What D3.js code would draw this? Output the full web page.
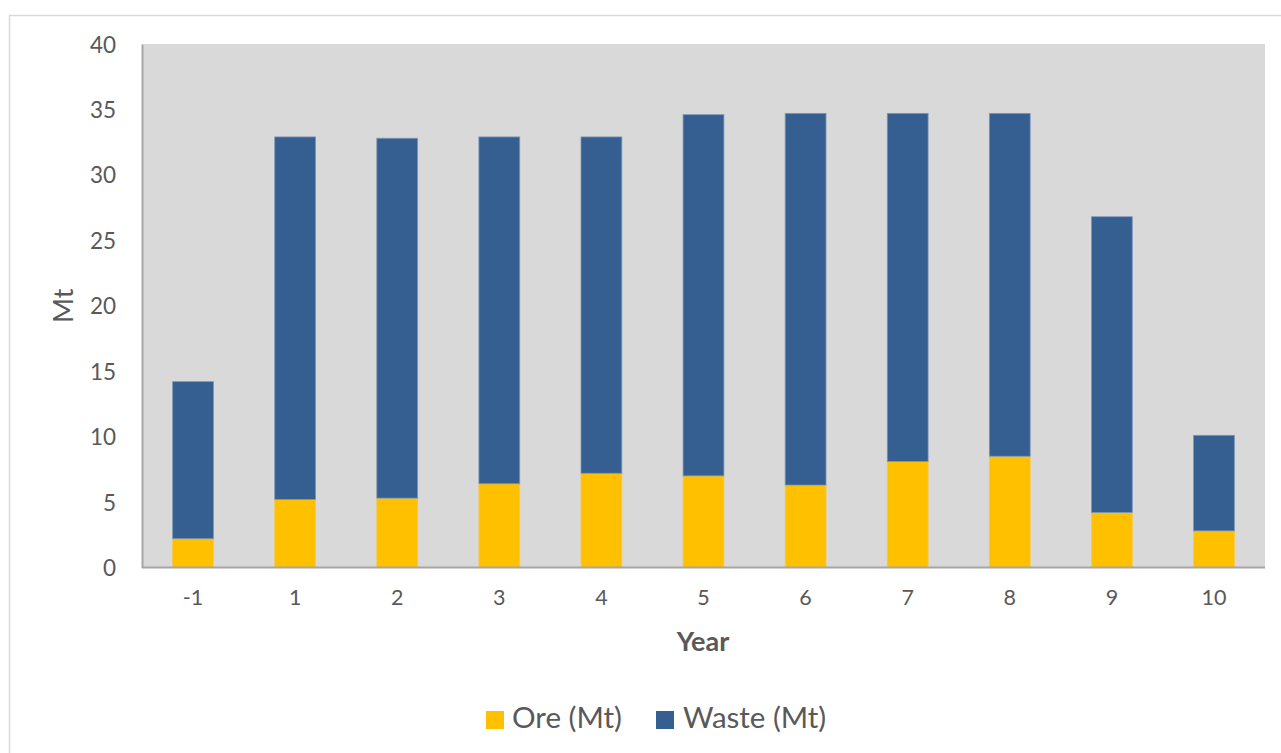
<!DOCTYPE html>
<html>
<head>
<meta charset="utf-8">
<script src="https://cdn.jsdelivr.net/npm/d3@7/dist/d3.min.js"></script>
<style>
  html, body { margin: 0; padding: 0; background: #ffffff; }
  svg { display: block; font-family: Lato, "Open Sans", sans-serif; }
  svg text { font-family: Lato, "Open Sans", sans-serif; }
</style>
</head>
<body>
<svg id="chart" width="1281" height="753"></svg>
<script>
// Annual production schedule (Mt)
const years = ["-1", "1", "2", "3", "4", "5", "6", "7", "8", "9", "10"];
const ore   = [2.2, 5.2, 5.3, 6.4, 7.2, 7.0, 6.3, 8.1, 8.5, 4.2, 2.8];
const waste = [12.0, 27.7, 27.5, 26.5, 25.7, 27.6, 28.4, 26.6, 26.2, 22.6, 7.3];
const yTicks = [0, 5, 10, 15, 20, 25, 30, 35, 40];
const seriesNames = ["Ore (Mt)", "Waste (Mt)"];
const seriesColors = ["#FFC000", "#355F91"];

const svg = d3.select("#chart");
const plot = { left: 142, top: 44, right: 1265, bottom: 567.5 };

// outer chart frame
svg.append("rect")
  .attr("x", 9.5).attr("y", 15.5)
  .attr("width", 1290).attr("height", 760)
  .attr("fill", "#ffffff")
  .attr("stroke", "#d9d9d9").attr("stroke-width", 1.5);

// plot background
svg.append("rect")
  .attr("x", plot.left).attr("y", plot.top)
  .attr("width", plot.right - plot.left).attr("height", plot.bottom - plot.top)
  .attr("fill", "#d9d9d9");

const x = d3.scaleBand()
  .domain(years)
  .range([plot.left, plot.right])
  .paddingInner(0.6).paddingOuter(0.3);

const y = d3.scaleLinear().domain([0, 40]).range([plot.bottom, plot.top]);

const rows = years.map((yr, i) => ({ year: yr, ore: ore[i], waste: waste[i] }));
const stacked = d3.stack().keys(["ore", "waste"])(rows);

svg.append("g").selectAll("g")
  .data(stacked)
  .join("g")
  .attr("fill", (d, i) => seriesColors[i])
  .attr("stroke", (d, i) => i === 0 ? "#f5c94a" : "#7d97b8")
  .attr("stroke-width", 0.8)
  .selectAll("rect")
  .data(d => d)
  .join("rect")
  .attr("x", d => x(d.data.year))
  .attr("width", x.bandwidth())
  .attr("y", d => y(d[1]))
  .attr("height", d => y(d[0]) - y(d[1]));

// y axis
const yAxis = svg.append("g")
  .attr("transform", `translate(${plot.left},0)`)
  .call(d3.axisLeft(y).tickValues(yTicks).tickSize(0).tickPadding(26))
  .attr("font-family", null).attr("font-size", null);
yAxis.select(".domain").attr("stroke", "#a6a6a6").attr("stroke-width", 2);
yAxis.selectAll("text").attr("fill", "#595959").style("font-size", "22.5px")
  .attr("dy", "0.36em");

// x axis
const xAxis = svg.append("g")
  .attr("transform", `translate(0,${plot.bottom})`)
  .call(d3.axisBottom(x).tickSize(0).tickPadding(22))
  .attr("font-family", null).attr("font-size", null);
xAxis.select(".domain").attr("stroke", "#a6a6a6").attr("stroke-width", 2)
  .attr("d", `M${plot.left},0H${plot.right}`);
xAxis.selectAll("text").attr("fill", "#595959").style("font-size", "21.5px");

// axis titles
svg.append("text")
  .attr("x", (plot.left + plot.right) / 2 - 0.5).attr("y", 651)
  .attr("text-anchor", "middle")
  .attr("fill", "#595959").style("font-size", "27px").style("font-weight", "bold")
  .text("Year");

svg.append("text")
  .attr("transform", `translate(73,${(plot.top + plot.bottom) / 2}) rotate(-90)`)
  .attr("text-anchor", "middle")
  .attr("fill", "#595959").style("font-size", "27px")
  .text("Mt");

// legend
const legendItems = [{ x: 486, tx: 512 }, { x: 656, tx: 683 }];
const legend = svg.append("g");
seriesNames.forEach((name, i) => {
  legend.append("rect")
    .attr("x", legendItems[i].x).attr("y", 711)
    .attr("width", 18).attr("height", 18)
    .attr("fill", seriesColors[i]);
  legend.append("text")
    .attr("x", legendItems[i].tx).attr("y", 728)
    .attr("fill", "#595959").style("font-size", "29.5px")
    .text(name);
});
</script>
</body>
</html>
